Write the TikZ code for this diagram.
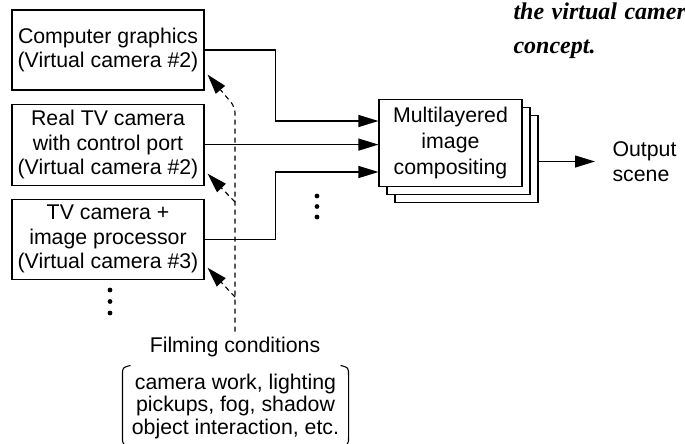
\documentclass[tikz,border=0pt]{standalone}
\usepackage{fontspec}
\setmainfont{Liberation Sans}
\newfontfamily\capfont{Liberation Serif}[WordSpace=1.25]
\usetikzlibrary{positioning,arrows.meta,shadows}

\begin{document}
\begin{tikzpicture}[
    x=1pt, y=-1pt,
    line width=1.1pt,
    srcbox/.style={
        draw,
        align=center,
        minimum width=192pt,
        minimum height=80pt,
        inner sep=0pt,
        font=\fontsize{21.3}{24.5}\selectfont
    },
    layerbox/.style={
        draw,
        fill=white,
        align=center,
        minimum width=143pt,
        minimum height=87pt,
        inner sep=0pt,
        font=\fontsize{21.3}{26}\selectfont,
        double copy shadow={shadow xshift=8pt, shadow yshift=-8pt, draw, fill=white}
    },
    arrow/.style={-{Triangle[length=20pt,width=12pt]}},
    dasharrow/.style={arrow, dash pattern=on 5pt off 4pt, rounded corners=6pt},
    txt/.style={font=\fontsize{21.3}{24.5}\selectfont, inner sep=0pt},
    captxt/.style={font=\capfont\bfseries\itshape\fontsize{24}{33}\selectfont, inner sep=0pt, anchor=base west}
]
\useasboundingbox (0,0) rectangle (685,444);

\node[srcbox] (cg) at (108,50) {Computer graphics\\(Virtual camera \#2)};

\node[srcbox, minimum height=81pt, below=13pt of cg] (tv)
    {Real TV camera\\with control port\\(Virtual camera \#2)};

\node[srcbox, below=13pt of tv] (proc)
    {TV camera +\\image processor\\(Virtual camera \#3)};

\node[layerbox] (comp) at (450.5,143) {Multilayered\\image\\compositing};

\node[txt, align=left, anchor=west] (out) at (612,161.5) {Output\\scene};

\draw[arrow] (cg.east) -- ++(71,0) |- ([yshift=22pt]comp.west);
\draw[arrow] (tv.east) -- (tv.east -| comp.west);
\draw[arrow] (proc.east) -- ++(71,0) |- ([yshift=-29pt]comp.west);

\coordinate (back) at ([xshift=15pt]comp.east);
\draw[arrow, shorten >=17pt] (back |- out.west) -- (out.west);

\foreach \dy in {0,10.5,21} \fill (317,196+\dy) circle (2.4pt);
\foreach \dy in {0,11.5,23} \fill (110,290+\dy) circle (2.4pt);

\node[txt, inner sep=5pt] (film) at (235,347) {Filming conditions};

\node[txt, font=\fontsize{21.3}{22.5}\selectfont, align=center,
      minimum width=225pt, minimum height=80pt] (cond) at (235.5,406)
    {camera work, lighting\\pickups, fog, shadow\\object interaction, etc.};

\draw ([xshift=8pt]cond.north west) .. controls ([yshift=-2pt]cond.north west)
    .. ([yshift=-10pt]cond.north west) -- ([yshift=10pt]cond.south west)
    .. controls ([yshift=2pt]cond.south west) .. ([xshift=8pt]cond.south west);
\draw ([xshift=-8pt]cond.north east) .. controls ([yshift=-2pt]cond.north east)
    .. ([yshift=-10pt]cond.north east) -- ([yshift=10pt]cond.south east)
    .. controls ([yshift=2pt]cond.south east) .. ([xshift=-8pt]cond.south east);

\draw[dasharrow] (film.north) -- (film.north |- 0,107)
    -- ([shift={(3pt,16pt)}]cg.south east);
\draw[dasharrow] (film.north |- 0,202) -- ([shift={(3pt,12pt)}]tv.south east);
\draw[dasharrow] (film.north |- 0,297) -- ([shift={(3pt,12pt)}]proc.south east);

\node[captxt] (cap1) at (513,20) {the virtual camer};
\node[captxt] (cap2) at (513,53) {concept.};

\end{tikzpicture}
\end{document}
